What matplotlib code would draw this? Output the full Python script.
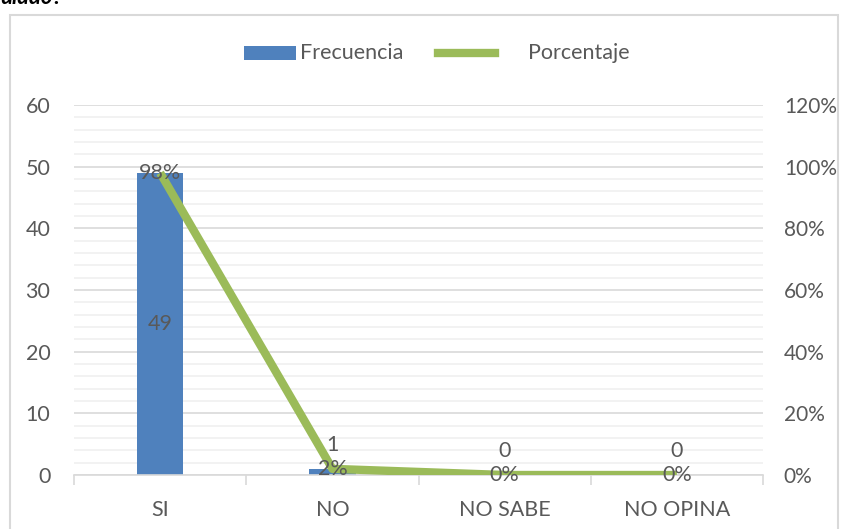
import matplotlib
matplotlib.use('Agg')
import matplotlib.pyplot as plt
from matplotlib.patches import Rectangle
from matplotlib.ticker import MultipleLocator, PercentFormatter
from matplotlib.lines import Line2D

plt.rcParams['font.family'] = ['Lato', 'DejaVu Sans']

categorias = ['SI', 'NO', 'NO SABE', 'NO OPINA']
frecuencia = [49, 1, 0, 0]
porcentaje = [0.98, 0.02, 0.0, 0.0]
pct_labels = ['98%', '2%', '0%', '0%']

C_BAR = '#4F81BD'
C_LINE = '#9BBB59'
C_TXT = '#595959'
C_GRID = '#D9D9D9'
C_MINOR = '#F0F0F0'
FS = 15.5

W, H = 843, 529
fig = plt.figure(figsize=(W / 100, H / 100), dpi=100)

# chart frame + cut-off caption at the top
fig.patches.append(Rectangle((10 / W, -0.05), 828 / W, 1.05 - 15 / H,
                             transform=fig.transFigure, fill=False,
                             edgecolor=C_GRID, linewidth=1.5))
fig.text(0.0, 1 - 4 / H, 'ulado?', fontsize=16, fontweight='bold',
         fontstyle='italic', color='black', va='baseline', ha='left')

ax = fig.add_axes([74 / W, 54 / H, 689 / W, 370 / H])
x = range(len(categorias))
ax.bar(x, frecuencia, width=0.27, color=C_BAR, zorder=2)
ax.set_xlim(-0.5, len(categorias) - 0.5)
ax.set_ylim(0, 60)
ax.yaxis.set_major_locator(MultipleLocator(10))
ax.yaxis.set_minor_locator(MultipleLocator(2))
ax.grid(axis='y', which='major', color=C_GRID, linewidth=1.2, zorder=0)
ax.grid(axis='y', which='minor', color=C_MINOR, linewidth=1.2, zorder=0)
ax.set_axisbelow(True)
for s in ['top', 'left', 'right']:
    ax.spines[s].set_visible(False)
ax.spines['bottom'].set_color(C_GRID)
ax.spines['bottom'].set_linewidth(1.2)
ax.set_xticks([i + 0.5 for i in range(-1, len(categorias))])
ax.set_xticklabels([])
ax.set_xticks(list(x), minor=True)
ax.set_xticklabels(categorias, minor=True)
ax.tick_params(axis='x', which='major', length=7, color=C_GRID, width=1.2, direction='out')
ax.tick_params(axis='x', which='minor', length=0, pad=18, labelsize=FS, labelcolor=C_TXT)
ax.tick_params(axis='y', which='both', length=0, pad=17, labelsize=FS, labelcolor=C_TXT)

ax2 = ax.twinx()
ax2.plot(list(x), porcentaje, color=C_LINE, linewidth=6, solid_capstyle='butt', zorder=3)
ax2.set_ylim(0, 1.2)
ax2.yaxis.set_major_locator(MultipleLocator(0.2))
ax2.yaxis.set_major_formatter(PercentFormatter(1.0, decimals=0))
for s in ax2.spines.values():
    s.set_visible(False)
ax2.tick_params(axis='y', length=0, pad=15, labelsize=15, labelcolor=C_TXT)

# data labels
for i, v in enumerate(frecuencia):
    if v > 10:
        ax.text(i, v / 2, str(v), ha='center', va='center', fontsize=FS, color=C_TXT, zorder=5)
    else:
        ax.annotate(str(v), (i, v), xytext=(0, 17), textcoords='offset points',
                    ha='center', va='center', fontsize=FS, color=C_TXT, zorder=5)
for i, (p, lab) in enumerate(zip(porcentaje, pct_labels)):
    ax2.text(i, p, lab, ha='center', va='center', fontsize=FS, color=C_TXT, zorder=5)

# legend drawn like the Excel one
ly = 1 - 53 / H
fig.patches.append(Rectangle((244 / W, 1 - 60 / H), 52 / W, 14 / H,
                             transform=fig.transFigure, facecolor=C_BAR, edgecolor='none'))
fig.text(300 / W, ly, 'Frecuencia', fontsize=FS, color=C_TXT, va='center', ha='left')
fig.lines.append(Line2D([438 / W, 495 / W], [ly, ly], transform=fig.transFigure,
                        color=C_LINE, linewidth=6))
fig.text(528 / W, ly, 'Porcentaje', fontsize=FS, color=C_TXT, va='center', ha='left')

fig.savefig('out.png', dpi=100)
